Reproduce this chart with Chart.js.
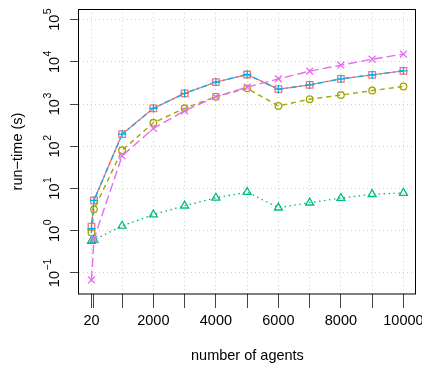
<!DOCTYPE html>
<html>
<head>
<meta charset="utf-8">
<script src="https://cdn.jsdelivr.net/npm/chart.js@4/dist/chart.umd.min.js"></script>
<style>
  html, body { margin: 0; padding: 0; background: #fff; }
  #wrap { width: 422px; height: 370px; position: relative; }
</style>
</head>
<body>
<div id="wrap"><canvas id="c"></canvas></div>
<script>
// ---- data ----
const agents = [20, 100, 1000, 2000, 3000, 4000, 5000, 6000, 7000, 8000, 9000, 10000];
const xTickValues = [20, 100, 1000, 2000, 3000, 4000, 5000, 6000, 7000, 8000, 9000, 10000];
const xTickLabels = ["20", "", "", "2000", "", "4000", "", "6000", "", "8000", "", "10000"];
const yTickExponents = [-1, 0, 1, 2, 3, 4, 5];

const seriesRed     = [1.25, 5.2, 193, 790, 1790, 3300, 5000, 2240, 2830, 3940, 4900, 6100];
const seriesOlive   = [0.91, 3.2, 80, 359, 790, 1490, 2350, 900, 1300, 1630, 2080, 2600];
const seriesGreen   = [0.57, 0.6, 1.3, 2.4, 3.9, 6.0, 8.2, 3.5, 4.6, 5.9, 7.3, 7.8];
const seriesBlue    = [1.12, 5.2, 193, 790, 1790, 3300, 5000, 2240, 2830, 3940, 4900, 6100];
const seriesMagenta = [0.068, 0.63, 59, 264, 690, 1490, 2500, 3940, 6000, 8300, 11500, 15200];

const FONT = '"Liberation Sans", Arial, Helvetica, sans-serif';
Chart.defaults.font.family = FONT;
Chart.defaults.color = '#000';

function pts(vals) { return agents.map((x, i) => ({ x: x, y: vals[i] })); }

function ds(vals, color, dash, style, radius, order) {
  return {
    data: pts(vals),
    borderColor: color,
    backgroundColor: 'rgba(0,0,0,0)',
    borderWidth: 1.4,
    borderDash: dash,
    pointStyle: style,
    pointRadius: radius,
    pointBorderColor: color,
    pointBackgroundColor: 'rgba(0,0,0,0)',
    pointBorderWidth: 1.3,
    tension: 0,
    order: order
  };
}

const boxPlugin = {
  id: 'box',
  afterDatasetsDraw(chart) {
    const a = chart.chartArea, ctx = chart.ctx;
    ctx.save();
    ctx.strokeStyle = '#000';
    ctx.lineWidth = 1;
    ctx.setLineDash([]);
    ctx.strokeRect(Math.round(a.left) - 0.5, Math.round(a.top) + 0.5,
                   Math.round(a.right) - Math.round(a.left), Math.round(a.bottom) - Math.round(a.top) - 0.5);
    ctx.restore();
  }
};

const yLabelPlugin = {
  id: 'ylabels',
  afterDraw(chart) {
    const ys = chart.scales.y, ctx = chart.ctx;
    ctx.save();
    ctx.fillStyle = '#000';
    ctx.textBaseline = 'alphabetic';
    ctx.textAlign = 'left';
    yTickExponents.forEach(e => {
      const py = ys.getPixelForValue(Math.pow(10, e));
      const expTxt = e < 0 ? '\u2212' + Math.abs(e) : String(e);
      ctx.font = '14.5px ' + FONT;
      const w10 = ctx.measureText('10').width;
      ctx.font = '10.5px ' + FONT;
      const wE = ctx.measureText(expTxt).width;
      const total = w10 + wE + 0.5;
      ctx.save();
      ctx.translate(59, py);
      ctx.rotate(-Math.PI / 2);
      const sx = -total / 2;
      ctx.font = '14.5px ' + FONT;
      ctx.fillText('10', sx, 0);
      ctx.font = '10.5px ' + FONT;
      ctx.fillText(expTxt, sx + w10 + 0.5, -8.5);
      ctx.restore();
    });
    ctx.restore();
  }
};

new Chart(document.getElementById('c'), {
  type: 'line',
  data: {
    datasets: [
      ds(seriesRed,     '#F8766D', [],            'rect',     4.6, 5),
      ds(seriesOlive,   '#A3A500', [5, 4],        'circle',   3.3, 4),
      ds(seriesGreen,   '#00BF7D', [1.5, 3.5],    'triangle', 4.6, 3),
      ds(seriesBlue,    '#00B0F6', [1.5, 3.5, 5, 3.5], 'cross', 4.2, 2),
      ds(seriesMagenta, '#E76BF3', [9, 4],        'crossRot', 4.8, 1)
    ]
  },
  options: {
    responsive: true,
    maintainAspectRatio: false,
    devicePixelRatio: 1,
    animation: false,
    layout: { padding: { top: 9, right: 5, left: 0, bottom: 0 } },
    plugins: { legend: { display: false }, tooltip: { enabled: false } },
    scales: {
      x: {
        type: 'linear',
        min: -379,
        max: 10399,
        afterBuildTicks: s => { s.ticks = xTickValues.map(v => ({ value: v })); },
        afterFit: s => { s.height = 76; s.paddingLeft = 0; s.paddingRight = 0; },
        ticks: {
          autoSkip: false,
          maxRotation: 0,
          minRotation: 0,
          padding: 4,
          font: { size: 14.5 },
          color: '#000',
          callback: (v) => { const i = xTickValues.indexOf(v); return i >= 0 ? xTickLabels[i] : ''; }
        },
        grid: {
          color: c => (c.tick && c.tick.value === 100) ? 'rgba(0,0,0,0)' : '#cfcfcf',
          lineWidth: 1,
          tickLength: 14,
          tickColor: '#444',
          tickWidth: 1
        },
        border: { display: false, dash: [1, 3] },
        title: {
          display: true,
          text: 'number of agents',
          font: { size: 14.5 },
          color: '#000',
          padding: { top: 0, bottom: 5 }
        }
      },
      y: {
        type: 'logarithmic',
        min: Math.pow(10, -1.5),
        max: Math.pow(10, 5.25),
        afterBuildTicks: s => { s.ticks = yTickExponents.map(e => ({ value: Math.pow(10, e) })); },
        afterFit: s => { s.width = 79; s.paddingTop = 0; s.paddingBottom = 0; },
        ticks: { display: false },
        grid: {
          color: '#cfcfcf',
          lineWidth: 1,
          tickLength: 9,
          tickColor: '#444',
          tickWidth: 1
        },
        border: { display: false, dash: [1, 3] },
        title: {
          display: true,
          text: 'run\u2212time (s)',
          font: { size: 14.5 },
          color: '#000',
          padding: { top: 9, bottom: 0 }
        }
      }
    }
  },
  plugins: [boxPlugin, yLabelPlugin]
});
</script>
</body>
</html>
